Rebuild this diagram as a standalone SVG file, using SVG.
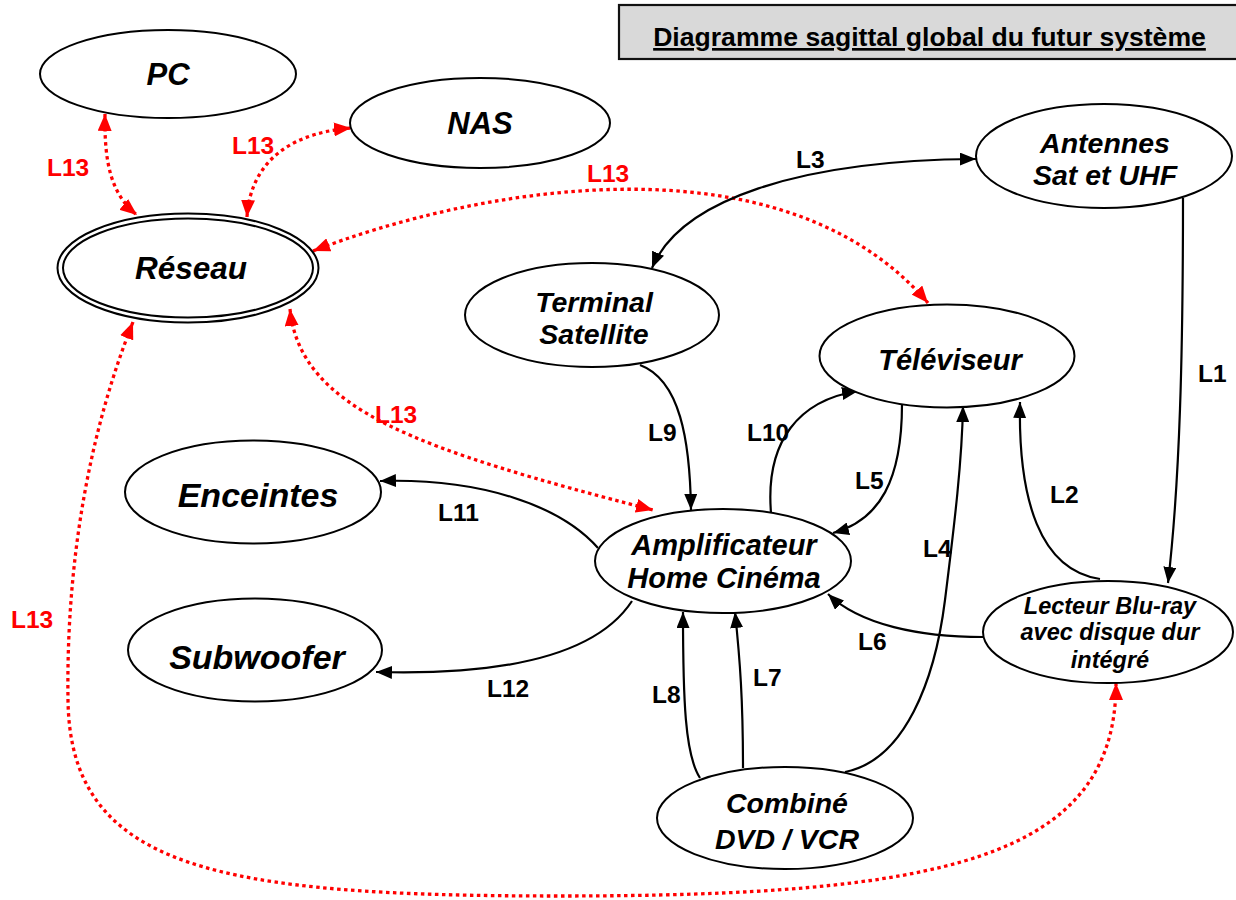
<svg xmlns="http://www.w3.org/2000/svg" width="1236" height="900" viewBox="0 0 1236 900">
<style>
.node{fill:#fff;stroke:#000;stroke-width:2}
.nt{font-family:"Liberation Sans",Arial,sans-serif;font-weight:bold;font-style:italic;text-anchor:middle;fill:#000}
.lab{font-family:"Liberation Sans",Arial,sans-serif;font-weight:bold;font-size:24.5px;fill:#000}
.rlab{font-family:"Liberation Sans",Arial,sans-serif;font-weight:bold;font-size:24.5px;fill:#ff0000}
.c{fill:none;stroke:#000;stroke-width:2.2}
.r{fill:none;stroke:#ff0000;stroke-width:3.3;stroke-dasharray:3.5 3.5}
</style>
<defs>
<marker id="ab" viewBox="0 0 16 13" refX="16" refY="6.5" markerWidth="16" markerHeight="13" markerUnits="userSpaceOnUse" orient="auto-start-reverse"><path d="M0,0 L16,6.5 L0,13 z" fill="#000"/></marker>
<marker id="ar" viewBox="0 0 17 14" refX="17" refY="7" markerWidth="17" markerHeight="14" markerUnits="userSpaceOnUse" orient="auto-start-reverse"><path d="M0,0 L17,7 L0,14 z" fill="#ff0000"/></marker>
</defs>
<rect width="1236" height="900" fill="#fff"/>

<g id="title">
<rect x="619" y="5" width="640" height="54" fill="#d9d9d9" stroke="#111" stroke-width="2.2"/>
<text x="929.5" y="46" font-family="Liberation Sans,Arial,sans-serif" font-weight="bold" font-size="26.6" text-anchor="middle" text-decoration="underline">Diagramme sagittal global du futur système</text>
</g>

<g id="connectors">
<path class="r" d="M105,114 C104,165 112,195 137,215" marker-start="url(#ar)" marker-end="url(#ar)"/>
<path class="r" d="M247,217 C250,170 280,134 351,128" marker-start="url(#ar)" marker-end="url(#ar)"/>
<path class="r" d="M313,251 C470,190 780,130 928,303" marker-start="url(#ar)" marker-end="url(#ar)"/>
<path class="r" d="M290,309 C300,410 420,450 653,510" marker-start="url(#ar)" marker-end="url(#ar)"/>
<path class="r" d="M133,322 C90,430 66,560 68,700 C70,870 220,896 560,896 C940,896 1116,860 1116,683" marker-start="url(#ar)" marker-end="url(#ar)"/>

<path class="c" d="M1183,198 C1183,350 1180,480 1168,583" marker-end="url(#ab)"/>
<path class="c" d="M1100,579 C1040,570 1018,500 1020,402" marker-end="url(#ab)"/>
<path class="c" d="M976,159 C800,160 680,200 652,268" marker-start="url(#ab)" marker-end="url(#ab)"/>
<path class="c" d="M845,772 C905,760 935,680 945,600 C955,520 962,460 963,406" marker-end="url(#ab)"/>
<path class="c" d="M902,404 C902,480 880,520 833,533" marker-end="url(#ab)"/>
<path class="c" d="M983,637 C920,637 860,625 828,594" marker-end="url(#ab)"/>
<path class="c" d="M743,768 C743,700 740,660 735,612" marker-end="url(#ab)"/>
<path class="c" d="M700,778 C685,755 683,700 683,612" marker-end="url(#ab)"/>
<path class="c" d="M640,365 C680,380 690,440 691,510" marker-end="url(#ab)"/>
<path class="c" d="M771,513 C765,440 800,400 858,391" marker-end="url(#ab)"/>
<path class="c" d="M598,548 C560,505 480,478 380,481" marker-end="url(#ab)"/>
<path class="c" d="M632,601 C600,650 520,676 376,672" marker-end="url(#ab)"/>

<text class="rlab" x="47" y="176">L13</text>
<text class="rlab" x="232" y="154">L13</text>
<text class="rlab" x="587" y="182">L13</text>
<text class="rlab" x="375" y="423">L13</text>
<text class="rlab" x="11" y="628">L13</text>
<text class="lab" x="1198" y="382">L1</text>
<text class="lab" x="1050" y="503">L2</text>
<text class="lab" x="796" y="168">L3</text>
<text class="lab" x="923" y="557">L4</text>
<text class="lab" x="855" y="489">L5</text>
<text class="lab" x="858" y="650">L6</text>
<text class="lab" x="753" y="686">L7</text>
<text class="lab" x="652" y="703">L8</text>
<text class="lab" x="648" y="441">L9</text>
<text class="lab" x="747" y="441">L10</text>
<text class="lab" x="438" y="521">L11</text>
<text class="lab" x="487" y="697">L12</text>
</g>

<g id="pc"><ellipse class="node" cx="168" cy="74" rx="128" ry="44"/><text class="nt" x="168" y="85" font-size="31">PC</text></g>
<g id="nas"><ellipse class="node" cx="480" cy="123" rx="130" ry="45"/><text class="nt" x="480" y="134" font-size="31">NAS</text></g>
<g id="reseau"><ellipse class="node" cx="188" cy="268" rx="130.5" ry="54.5"/><ellipse class="node" cx="188" cy="268" rx="125" ry="49.5"/><text class="nt" x="191" y="279" font-size="31.5">Réseau</text></g>
<g id="antennes"><ellipse class="node" cx="1104" cy="156" rx="128" ry="52"/><text class="nt" x="1105" y="153" font-size="28.5">Antennes</text><text class="nt" x="1105" y="185" font-size="28.5">Sat et UHF</text></g>
<g id="terminal"><ellipse class="node" cx="592" cy="315" rx="127" ry="52"/><text class="nt" x="594" y="312" font-size="28.5">Terminal</text><text class="nt" x="594" y="344" font-size="28.5">Satellite</text></g>
<g id="televiseur"><ellipse class="node" cx="947" cy="356" rx="127.5" ry="51.5"/><text class="nt" x="950" y="370" font-size="29">Téléviseur</text></g>
<g id="enceintes"><ellipse class="node" cx="253" cy="492" rx="128" ry="51.5"/><text class="nt" x="258" y="507" font-size="34">Enceintes</text></g>
<g id="subwoofer"><ellipse class="node" cx="255" cy="650" rx="127" ry="51.5"/><text class="nt" x="257" y="669" font-size="34">Subwoofer</text></g>
<g id="amplificateur"><ellipse class="node" cx="723" cy="561" rx="128" ry="52"/><text class="nt" x="724" y="555" font-size="29">Amplificateur</text><text class="nt" x="724" y="588" font-size="29">Home Cinéma</text></g>
<g id="lecteur"><ellipse class="node" cx="1108" cy="632" rx="125" ry="51"/><text class="nt" x="1110" y="614" font-size="23.5">Lecteur Blu-ray</text><text class="nt" x="1110" y="640" font-size="23.5">avec disque dur</text><text class="nt" x="1110" y="668" font-size="23.5">intégré</text></g>
<g id="combine"><ellipse class="node" cx="785" cy="818" rx="128" ry="51"/><text class="nt" x="787" y="813" font-size="28.5">Combiné</text><text class="nt" x="787" y="849" font-size="28.5">DVD / VCR</text></g>
</svg>
